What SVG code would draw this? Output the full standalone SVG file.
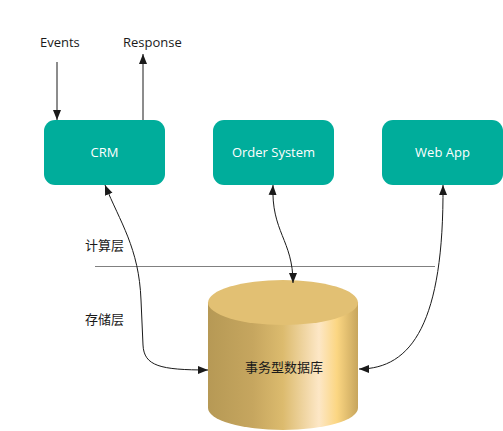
<svg xmlns="http://www.w3.org/2000/svg" width="503" height="431" viewBox="0 0 503 431">
<style>
.box{fill:#00ad9b;}
.bt{fill:#ffffff;font-family:"Open Sans","Noto Sans",sans-serif;font-size:13px;text-anchor:middle;}
.lbl{fill:#1a1a1a;font-family:"Open Sans","Noto Sans",sans-serif;font-size:13px;}
.cjk{fill:#1a1a1a;font-family:"Noto Sans CJK SC","Noto Sans",sans-serif;font-size:13px;}
.c{fill:none;stroke:#1a1a1a;stroke-width:1;}
</style>
<defs>
<marker id="ah" viewBox="0 0 10 10" refX="10" refY="5" markerWidth="10" markerHeight="10" markerUnits="userSpaceOnUse" orient="auto-start-reverse">
<path d="M0,1 L10,5 L0,9 Z" fill="#1a1a1a"/>
</marker>
<linearGradient id="cylg" x1="0" y1="0" x2="1" y2="0">
<stop offset="0" stop-color="#b69955"/>
<stop offset="0.3" stop-color="#c6a65f"/>
<stop offset="0.5" stop-color="#dcbb6e"/>
<stop offset="0.74" stop-color="#fde7c6"/>
<stop offset="0.86" stop-color="#fbd682"/>
<stop offset="1" stop-color="#c7a55c"/>
</linearGradient>
</defs>
<rect width="503" height="431" fill="#ffffff"/>

<g id="layers">
<line x1="95" y1="266.5" x2="435" y2="266.5" stroke="#808080" stroke-width="1"/>
<text class="cjk" x="85" y="250">计算层</text>
<text class="cjk" x="85" y="324">存储层</text>
</g>

<g id="crm">
<rect class="box" x="44" y="120" width="121" height="65" rx="11"/>
<text class="bt" x="104.5" y="157">CRM</text>
</g>
<g id="order">
<rect class="box" x="213" y="120" width="121" height="65" rx="11"/>
<text class="bt" x="273.5" y="157">Order System</text>
</g>
<g id="webapp">
<rect class="box" x="382" y="120" width="121" height="65" rx="11"/>
<text class="bt" x="442.5" y="157">Web App</text>
</g>
<g id="events"><text class="lbl" x="40" y="47">Events</text></g>
<g id="response"><text class="lbl" x="123" y="47">Response</text></g>

<g id="db">
<path d="M208,302.5 L208,408 A75,22 0 0 0 358,408 L358,302.5 Z" fill="url(#cylg)"/>
<ellipse cx="283" cy="302.5" rx="75" ry="22.5" fill="#e2c073"/>
<text class="cjk" x="284" y="372" text-anchor="middle">事务型数据库</text>
</g>

<g id="connectors">
<line class="c" x1="57" y1="62" x2="57" y2="120" marker-end="url(#ah)"/>
<line class="c" x1="143" y1="120" x2="143" y2="54" marker-end="url(#ah)"/>
<path class="c" d="M105,185 C120,222 139,248 141,300 L143,345 C144,366 160,370 208,370" marker-start="url(#ah)" marker-end="url(#ah)"/>
<path class="c" d="M273,185 C271,232 293,240 293,283" marker-start="url(#ah)" marker-end="url(#ah)"/>
<path class="c" d="M443,185 C444,322 412,369 359,369" marker-start="url(#ah)" marker-end="url(#ah)"/>
</g>
</svg>
